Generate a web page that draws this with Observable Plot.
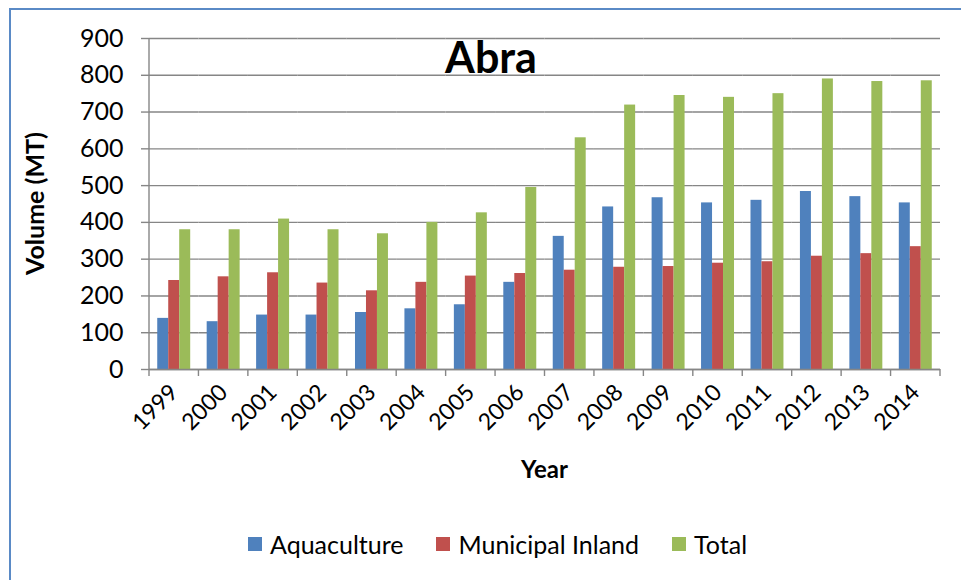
<!DOCTYPE html>
<html>
<head>
<meta charset="utf-8">
<script src="https://cdn.jsdelivr.net/npm/d3@7"></script>
<script src="https://cdn.jsdelivr.net/npm/@observablehq/plot@0.6"></script>
<style>
  html, body { margin: 0; padding: 0; background: #fff; }
  #wrap { position: relative; width: 961px; height: 580px; overflow: hidden; font-family: Lato, "Open Sans", sans-serif; }
  #frame { position: absolute; left: 9px; top: 8px; width: 1000px; height: 700px; border-left: 2px solid #5A8AC6; border-top: 2px solid #5A8AC6; box-sizing: border-box; }
  #chart { position: absolute; left: 0; top: 0; }
  #legend { position: absolute; left: 248px; top: 529px; display: flex; align-items: center; font-size: 25px; line-height: 30px; color: #000; white-space: nowrap; }
  #legend .item { display: flex; align-items: center; margin-right: 33px; }
  #legend .sw { width: 14px; height: 14px; margin-right: 8px; }
</style>
</head>
<body>
<div id="wrap">
  <div id="frame"></div>
  <div id="chart"></div>
  <div id="legend"></div>
</div>
<script>
// ---- data ----
const years = ["1999","2000","2001","2002","2003","2004","2005","2006","2007","2008","2009","2010","2011","2012","2013","2014"];
const aquaculture = [139,130,148,148,155,165,176,237,362,442,467,453,460,484,470,453];
const municipalInland = [242,252,263,235,214,237,254,261,270,278,280,289,293,308,315,334];
const total = [380,380,409,380,369,400,426,495,630,719,745,740,750,790,783,785];
const seriesNames = ["Aquaculture","Municipal Inland","Total"];
const seriesColors = ["#4F81BD","#C0504D","#9BBB59"];
const yTicks = [0,100,200,300,400,500,600,700,800,900];
const title = "Abra";
const yLabel = "Volume (MT)";
const xLabel = "Year";

const seriesValues = [aquaculture, municipalInland, total];
const data = years.flatMap((yr, i) => seriesNames.map((s, k) => ({year: yr, series: s, value: seriesValues[k][i]})));

const grey = "#868686";
const plot = Plot.plot({
  width: 961,
  height: 580,
  marginLeft: 149,
  marginRight: 21,
  marginTop: 38,
  marginBottom: 211,
  style: {fontFamily: "Lato, 'Open Sans', sans-serif", fontSize: "25px", color: "black", background: "transparent", overflow: "visible"},
  fx: {domain: years, padding: 0, round: false, label: null},
  x: {domain: seriesNames, paddingInner: 0, paddingOuter: 0.75, round: false, axis: null},
  y: {domain: [0, 900], label: null},
  color: {domain: seriesNames, range: seriesColors},
  marks: [
    Plot.gridY(yTicks, {stroke: grey, strokeOpacity: 1, strokeWidth: 1.4}),
    Plot.barY(data, {fx: "year", x: "series", y: "value", fill: "series"}),
    Plot.ruleY([0], {stroke: grey, strokeWidth: 1.4}),
    Plot.axisY(yTicks, {tickSize: 8, tickPadding: 18, stroke: grey, strokeWidth: 1.4, fill: "black", label: null, fontSize: 25}),
    Plot.axisFx({anchor: "bottom", tickSize: 0, tickRotate: -45, tickPadding: 19, fill: "black", label: null, fontSize: 23})
  ]
});
document.getElementById("chart").appendChild(plot);

// decorations from the library's scales
const svg = d3.select(plot);
const fx = plot.scale("fx");
const ys = plot.scale("y");
const y0 = ys.apply(0), yTop = ys.apply(900);
const xStart = fx.range[0], xEnd = fx.range[1];
const step = (xEnd - xStart) / years.length;
const g = svg.append("g");
// y axis line
g.append("line").attr("x1", xStart).attr("x2", xStart).attr("y1", yTop).attr("y2", y0)
  .attr("stroke", grey).attr("stroke-width", 1.4);
// category boundary ticks
d3.range(years.length + 1).forEach(i => {
  const x = xStart + i * step;
  g.append("line").attr("x1", x).attr("x2", x).attr("y1", y0).attr("y2", y0 + 7)
    .attr("stroke", grey).attr("stroke-width", 1.4);
});
// title
g.append("text").text(title).attr("x", 491).attr("y", 73).attr("text-anchor", "middle")
  .attr("font-weight", "bold").attr("font-size", 43).attr("fill", "black");
// axis titles
g.append("text").text(yLabel).attr("transform", `translate(44,${(y0 + yTop) / 2}) rotate(-90)`)
  .attr("text-anchor", "middle").attr("font-weight", "bold").attr("font-size", 25).attr("fill", "black");
g.append("text").text(xLabel).attr("x", (xStart + xEnd) / 2).attr("y", 478).attr("text-anchor", "middle")
  .attr("font-weight", "bold").attr("font-size", 24).attr("fill", "black");

// legend
const legend = d3.select("#legend");
seriesNames.forEach((s, k) => {
  const it = legend.append("div").attr("class", "item");
  it.append("div").attr("class", "sw").style("background", seriesColors[k]);
  it.append("span").text(s);
});
</script>
</body>
</html>
